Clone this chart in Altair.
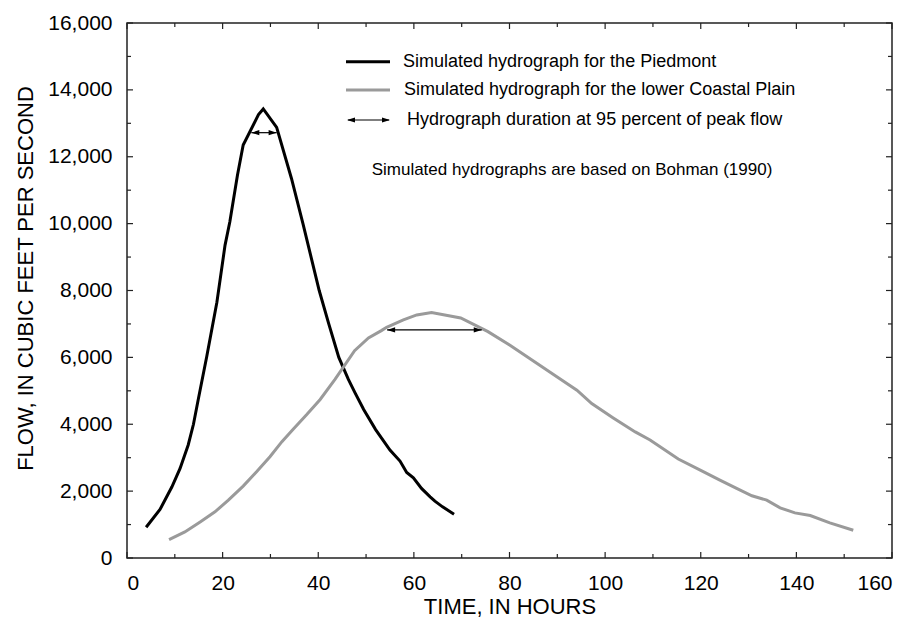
import altair as alt
import pandas as pd

# ---- data ----
PIED_T = [4.0, 6.9, 9.4, 11.1, 12.8, 13.9, 14.9, 16.7, 18.8, 20.5, 21.5, 23.1, 24.3, 27.5, 28.5,
          31.3, 34.4, 36.8, 38.5, 40.2, 42.2, 44.3, 46.3, 47.7, 49.5, 52.0, 55.0, 57.1, 58.5,
          59.9, 61.6, 63.4, 64.4, 66.0, 68.4]
PIED_Q = [920, 1450, 2130, 2680, 3380, 4000, 4740, 6040, 7650, 9350, 10050, 11450, 12350, 13260, 13430,
          12880, 11350, 10000, 9000, 8000, 7000, 6000, 5340, 4940, 4440, 3840, 3230, 2900, 2560,
          2400, 2080, 1830, 1700, 1530, 1310]

COAST_T = [8.8, 12.1, 15.3, 18.4, 21.2, 24.3, 27.1, 29.9, 32.4, 34.8, 37.6, 40.4, 43.5, 47.6, 50.5,
           53.2, 54.3, 57.8, 60.6, 63.7, 69.8, 75.5, 80.1, 85.0, 89.9, 94.1, 97.2, 101.7, 106.3,
           109.4, 115.3, 119.9, 124.0, 127.5, 130.7, 133.8, 136.6, 139.7, 142.9, 147.0, 151.9]
COAST_Q = [550, 780, 1080, 1380, 1730, 2150, 2580, 3030, 3480, 3860, 4290, 4740, 5340, 6200, 6580,
           6800, 6900, 7120, 7270, 7345, 7180, 6770, 6360, 5890, 5420, 5020, 4620, 4190, 3770,
           3530, 2960, 2630, 2330, 2080, 1860, 1730, 1500, 1350, 1270, 1050, 830]

# duration arrows at 95 percent of peak: start, end, flow
ARROW_START = [26.0, 54.4]
ARROW_END = [31.3, 74.2]
ARROW_Q = [12720, 6820]

X_MAJOR = [0, 20, 40, 60, 80, 100, 120, 140, 160]
X_MINOR = [10, 30, 50, 70, 90, 110, 130, 150]
Y_MAJOR = [0, 2000, 4000, 6000, 8000, 10000, 12000, 14000, 16000]
Y_MINOR = [1000, 3000, 5000, 7000, 9000, 11000, 13000, 15000]

X_TITLE = "TIME, IN HOURS"
Y_TITLE = "FLOW, IN CUBIC FEET PER SECOND"
LEGEND_LABELS = ["Simulated hydrograph for the Piedmont",
                 "Simulated hydrograph for the lower Coastal Plain",
                 "Hydrograph duration at 95 percent of peak flow"]
NOTE = "Simulated hydrographs are based on Bohman (1990)"

# ---- chart ----
W, H = 765, 535
FONT = "Liberation Sans"
xs = alt.Scale(domain=[0, 160], nice=False, zero=False)
ys = alt.Scale(domain=[0, 16000], nice=False)
X_AXIS = alt.Axis(values=X_MAJOR, ticks=False, domain=False, grid=False,
                  labelExpr="format(datum.value, 'd')",
                  labelPadding=14, titleY=55, titleBaseline="alphabetic")
Y_AXIS = alt.Axis(values=Y_MAJOR, ticks=False, domain=False, grid=False,
                  labelExpr="format(datum.value, ',d')",
                  labelPadding=15, titleX=-95, titleY=255, titleAngle=-90,
                  titleAlign="center", titleBaseline="alphabetic")


def X(f):
    return alt.X(f, type="quantitative", scale=xs, title=X_TITLE, axis=X_AXIS)


def Y(f):
    return alt.Y(f, type="quantitative", scale=ys, title=Y_TITLE, axis=Y_AXIS)


lines = pd.DataFrame({
    "t": PIED_T + COAST_T,
    "q": PIED_Q + COAST_Q,
    "s": ["P"] * len(PIED_T) + ["C"] * len(COAST_T),
})

main = alt.Chart(lines).mark_line(strokeWidth=3, strokeJoin="miter").encode(
    x=X("t"),
    y=Y("q"),
    color=alt.Color("s:N", scale=alt.Scale(domain=["P", "C"], range=["#000000", "#9a9a9a"]),
                    legend=None),
    detail="s:N",
)


def ticks_x(vals, length):
    df = pd.DataFrame({"v": vals})
    bot = alt.Chart(df).mark_rule(color="#222", strokeWidth=1.2).encode(
        x=X("v"), y=alt.value(H), y2=alt.value(H - length))
    top = alt.Chart(df).mark_rule(color="#222", strokeWidth=1.2).encode(
        x=X("v"), y=alt.value(0), y2=alt.value(length))
    return [bot, top]


def ticks_y(vals, length):
    df = pd.DataFrame({"v": vals})
    left = alt.Chart(df).mark_rule(color="#222", strokeWidth=1.2).encode(
        y=Y("v"), x=alt.value(0), x2=alt.value(length))
    right = alt.Chart(df).mark_rule(color="#222", strokeWidth=1.2).encode(
        y=Y("v"), x=alt.value(W), x2=alt.value(W - length))
    return [left, right]


tick_layers = ticks_x(X_MAJOR, 6) + ticks_x(X_MINOR, 4) + ticks_y(Y_MAJOR, 6) + ticks_y(Y_MINOR, 4)

arrows = pd.DataFrame({"a": ARROW_START, "b": ARROW_END, "q": ARROW_Q})
arrow_line = alt.Chart(arrows).mark_rule(color="#000", strokeWidth=1.2).encode(
    x=X("a"), x2="b:Q", y=Y("q"))
HEAD_R = "M0,0L-2,-0.65L-2,0.65Z"
HEAD_L = "M0,0L2,-0.65L2,0.65Z"
arrow_l = alt.Chart(arrows).mark_point(shape=HEAD_L, filled=True, color="#000", size=64, opacity=1).encode(
    x=X("a"), y=Y("q"))
arrow_r = alt.Chart(arrows).mark_point(shape=HEAD_R, filled=True, color="#000", size=64, opacity=1).encode(
    x=X("b"), y=Y("q"))

# legend (drawn by hand)
one = pd.DataFrame({"k": [0]})
LX0, LX1 = 219, 263
LY = [38.7, 67, 97]
leg = []
leg.append(alt.Chart(one).mark_rule(color="#000", strokeWidth=3).encode(
    x=alt.value(LX0), x2=alt.value(LX1), y=alt.value(LY[0])))
leg.append(alt.Chart(one).mark_rule(color="#9a9a9a", strokeWidth=3).encode(
    x=alt.value(LX0), x2=alt.value(LX1), y=alt.value(LY[1])))
leg.append(alt.Chart(one).mark_rule(color="#000", strokeWidth=1.2).encode(
    x=alt.value(LX0 + 2), x2=alt.value(LX1 - 1), y=alt.value(LY[2])))
leg.append(alt.Chart(one).mark_point(shape=HEAD_L, filled=True, color="#000", size=64, opacity=1).encode(
    x=alt.value(LX0 + 1), y=alt.value(LY[2])))
leg.append(alt.Chart(one).mark_point(shape=HEAD_R, filled=True, color="#000", size=64, opacity=1).encode(
    x=alt.value(LX1), y=alt.value(LY[2])))
TXT_X = [276, 277, 280]
for lab, tx, ty in zip(LEGEND_LABELS, TXT_X, LY):
    leg.append(alt.Chart(pd.DataFrame({"t": [lab]})).mark_text(
        align="left", baseline="middle", font=FONT, fontSize=18, color="#000").encode(
        x=alt.value(tx), y=alt.value(ty), text="t:N"))
leg.append(alt.Chart(pd.DataFrame({"t": [NOTE]})).mark_text(
    align="center", baseline="middle", font=FONT, fontSize=17, color="#000").encode(
    x=alt.value(445), y=alt.value(147), text="t:N"))

chart = alt.layer(main, *tick_layers, arrow_line, arrow_l, arrow_r, *leg).properties(
    width=W, height=H,
    autosize=alt.AutoSizeParams(type="none"),
    padding={"left": 119, "top": 15, "right": 17, "bottom": 62},
).configure_view(
    stroke="#222", strokeWidth=1.5
).configure_axis(
    labelFont=FONT, labelFontSize=21, labelColor="#000",
    titleFont=FONT, titleFontSize=22, titleColor="#000", titleFontWeight="normal",
)

chart.save("out.html", embed_options={"renderer": "svg", "actions": False})
